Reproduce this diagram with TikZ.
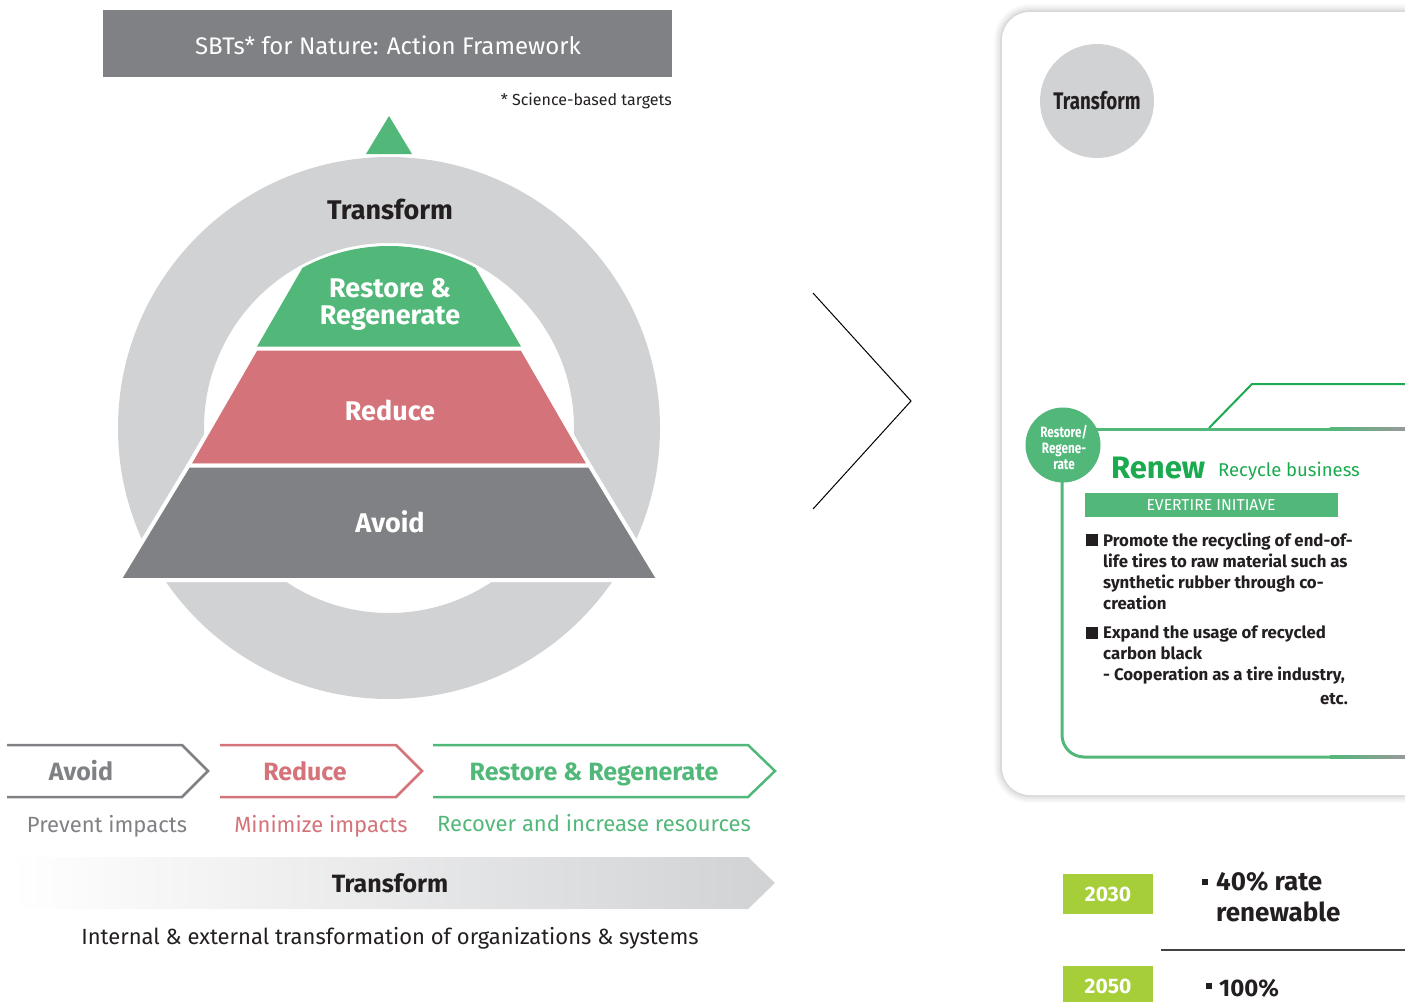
\documentclass[tikz,border=0pt]{standalone}
\usepackage{fontspec}
\setmainfont{Fira Sans}
\newfontfamily\condfont[FakeStretch=0.78]{Fira Sans}
\definecolor{bsgreen}{HTML}{52B87A}
\definecolor{bsred}{HTML}{D4747A}
\definecolor{bsgray}{HTML}{808184}
\definecolor{ringgray}{HTML}{D1D2D4}
\definecolor{dgreen}{HTML}{1BAA50}
\definecolor{lime}{HTML}{A6CE39}
\definecolor{txt}{HTML}{231F20}
\begin{document}
\begin{tikzpicture}[x=1pt,y=-1pt,inner sep=0pt,
  fs/.style={font=\fontsize{#1}{#1}\selectfont},
  bfs/.style={font=\bfseries\fontsize{#1}{#1}\selectfont},
  layer/.style={draw=white,line width=4pt,line join=miter},
  chev/.style={line width=2.5pt},
]
\useasboundingbox (0,0) rectangle (1405,1001);
\clip (0,0) rectangle (1405,1001);

% ---------- title ----------
\fill[bsgray] (103,10) rectangle (672,77);
\node[fs=24,text=white] (title) at (388,45) {SBTs* for Nature: Action Framework};
\node[fs=16,text=txt,anchor=east] (note) at (672,101) {* Science-based targets};

% ---------- ring and pyramid ----------
\fill[bsgreen] (366,154) -- (389,116) -- (412,154) -- cycle;
\fill[ringgray,even odd rule] (389,428) circle (271) (389,428) circle (185);
\begin{scope}
  \clip (389,428) circle (182);
  \fill[bsgreen] (389,118) -- (522.1,348.5) -- (255.9,348.5) -- cycle;
\end{scope}
\filldraw[layer,fill=bsred] (255.9,348.5) -- (522.1,348.5) -- (589.6,465.5) -- (188.4,465.5) -- cycle;
\filldraw[layer,fill=bsgray] (188.4,465.5) -- (589.6,465.5) -- (659,580) -- (119,580) -- cycle;

\node[bfs=27,text=txt] (ringT) at (390,209) {Transform};
\node[font=\bfseries\fontsize{27}{27}\selectfont,text=white,align=center] (rr) at (390,304) {Restore \&\\Regenerate};
\node[bfs=27,text=white] (red) at (390,410) {Reduce};
\node[bfs=27,text=white] (avo) at (390,522) {Avoid};

% ---------- chevrons ----------
\draw[chev,bsgray] (7,745) -- (182,745) -- (208,771) -- (182,797) -- (7,797);
\draw[chev,bsred] (220,745) -- (396,745) -- (422,771) -- (396,797) -- (220,797);
\draw[chev,bsgreen] (433,745) -- (748,745) -- (775,771) -- (748,797) -- (433,797);
\node[bfs=25,text=bsgray,anchor=base] (cAv) at (81,780) {Avoid};
\node[bfs=25,text=bsred,anchor=base] (cRe) at (305,780) {Reduce};
\node[bfs=25,text=bsgreen,anchor=base] (cRR) at (594,780) {Restore \& Regenerate};
\node[fs=22,text=bsgray,anchor=base] (sAv) at (107,832) {Prevent impacts};
\node[fs=22,text=bsred,anchor=base] (sRe) at (321,832) {Minimize impacts};
\node[fs=22,text=bsgreen,anchor=base] (sRR) at (594,831) {Recover and increase resources};

\shade[left color=white,right color=ringgray] (10,857) -- (748,857) -- (775,883) -- (748,909) -- (10,909) -- cycle;
\node[bfs=25,text=txt] (bandT) at (390,883) {Transform};
\node[fs=22,text=txt,anchor=base] (bandS) at (390,944) {Internal \& external transformation of organizations \& systems};

% ---------- middle chevron ----------
\draw[black,line width=1pt] (813,293) -- (911,401) -- (813,509);

% ---------- right card ----------
\foreach \d/\o in {8/0.025,6/0.03,4/0.04,2/0.06}{
  \fill[black,opacity=\o,rounded corners=28pt+\d pt] (1002-\d,12-\d) rectangle (1450,795+\d);
}
\fill[white,rounded corners=28pt] (1002,12) rectangle (1450,795);

\fill[ringgray] (1097,101) circle (57);
\node[font=\condfont\bfseries\fontsize{24}{28}\selectfont,text=txt] (cT) at (1097,101) {Transform};

\draw[dgreen,line width=2pt] (1209,428) -- (1252,384) -- (1405,384);
\draw[bsgreen,line width=3pt] (1095,429) -- (1330,429);
\shade[left color=bsgreen,right color=gray!80] (1330,427.5) rectangle (1405,430.5);
\draw[bsgreen,line width=3pt,rounded corners=22pt] (1062,470) -- (1062,757) -- (1330,757);
\shade[left color=bsgreen,right color=gray!80] (1330,755.5) rectangle (1405,758.5);

\fill[bsgreen] (1063,445) circle (37.5);
\node[font=\condfont\bfseries\fontsize{15}{16}\selectfont,text=white,align=center] (cR) at (1064,448) {Restore/\\Regene-\\rate};

\node[bfs=31,text=dgreen,anchor=base west] (renew) at (1111,478) {Renew};
\node[fs=18.5,text=dgreen,anchor=base west] (recy) at (1218,476) {Recycle business};
\fill[bsgreen] (1085,493) rectangle (1338,517);
\node[fs=15.8,text=white] (ever) at (1211,505.5) {EVERTIRE INITIAVE};

\fill[txt] (1086,534) rectangle (1098,546);
\fill[txt] (1086,627) rectangle (1098,639);
\node[font=\bfseries\fontsize{16.8}{21}\selectfont,text=txt,align=left,anchor=north west] (b1) at (1103,533)
  {Promote the recycling of end-of-\\life tires to raw material such as\\synthetic rubber through co-\\creation};
\node[font=\bfseries\fontsize{16.8}{21}\selectfont,text=txt,align=left,anchor=north west] (b2) at (1103,626)
  {Expand the usage of recycled\\carbon black\\- Cooperation as a tire industry,};
\node[font=\bfseries\fontsize{16.8}{21}\selectfont,text=txt,anchor=base east] (etc) at (1348,704) {etc.};

% ---------- targets ----------
\fill[lime] (1063,874) rectangle (1153,914);
\node[bfs=21,text=white] (y30) at (1108,894) {2030};
\fill[lime] (1063,966) rectangle (1153,1012);
\node[bfs=21,text=white] (y50) at (1108,986) {2050};
\fill[txt] (1202,879) rectangle (1208,885);
\node[font=\bfseries\fontsize{26}{31}\selectfont,text=txt,anchor=base west] (t30) at (1216,890) {40\% rate};
\node[font=\bfseries\fontsize{26}{31}\selectfont,text=txt,anchor=base west] (t30b) at (1216,921) {renewable};
\draw[txt!85,line width=1.5pt] (1161,950) -- (1405,950);
\fill[txt] (1206,983) rectangle (1212,989);
\node[font=\bfseries\fontsize{24}{31}\selectfont,text=txt,anchor=base west] (t50) at (1219,996) {100\%};
\end{tikzpicture}
\end{document}
